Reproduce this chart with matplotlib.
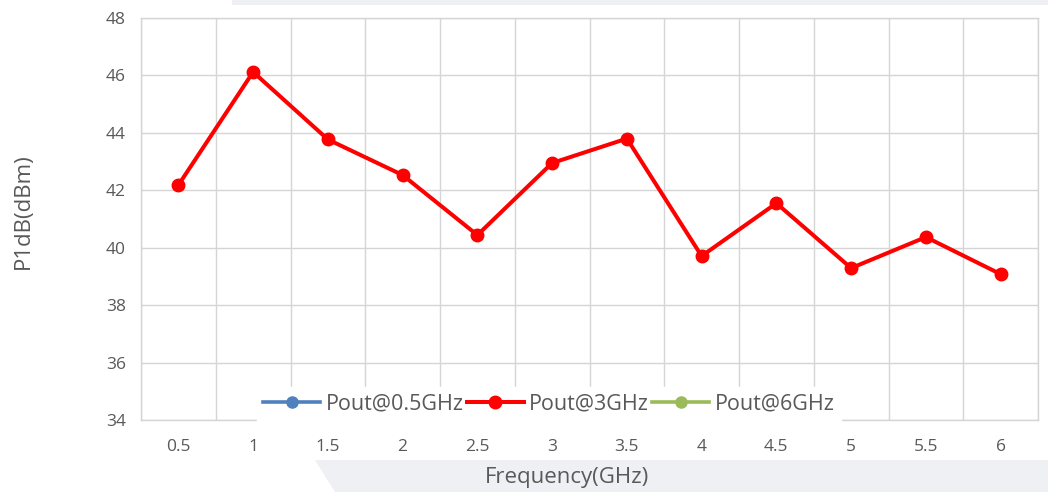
import matplotlib
matplotlib.use("Agg")
import matplotlib.pyplot as plt
from matplotlib.patches import Rectangle, Polygon
import numpy as np

categories = ["0.5", "1", "1.5", "2", "2.5", "3", "3.5", "4", "4.5", "5", "5.5", "6"]
pout_3ghz = [42.18, 46.12, 43.77, 42.53, 40.44, 42.95, 43.8, 39.71, 41.55, 39.29, 40.37, 39.08]
pout_05ghz = []  # not visible in chart
pout_6ghz = []   # not visible in chart
series_names = ["Pout@0.5GHz", "Pout@3GHz", "Pout@6GHz"]
yticks = [34, 36, 38, 40, 42, 44, 46, 48]

W, H = 1048, 492
fig = plt.figure(figsize=(W / 100, H / 100), dpi=100)
fig.patch.set_facecolor("white")

# light background decorations
bg = "#eef0f4"
fig.add_artist(Rectangle((232 / W, 1 - 5 / H), 1 - 232 / W, 5 / H, transform=fig.transFigure,
                         facecolor=bg, edgecolor="none", zorder=0))
fig.add_artist(Polygon([(315 / W, 1 - 460 / H), (1, 1 - 460 / H), (1, 0), (335 / W, 0)],
                       closed=True, transform=fig.transFigure, facecolor=bg, edgecolor="none", zorder=0))

ax = fig.add_axes([141 / W, 1 - 420 / H, (1038 - 141) / W, (420 - 18) / H])
ax.set_facecolor("white")
x = np.arange(len(categories))

ax.plot(np.arange(len(pout_05ghz)), pout_05ghz, color="#4f81bd", lw=2.6, marker="o", ms=8, label=series_names[0])
ax.plot(x, pout_3ghz, color="#ff0000", lw=2.9, marker="o", ms=9, label=series_names[1], zorder=5, clip_on=False)
ax.plot(np.arange(len(pout_6ghz)), pout_6ghz, color="#9bbb59", lw=2.6, marker="o", ms=8, label=series_names[2])

ax.set_xlim(-0.5, len(categories) - 0.5)
ax.set_ylim(34, 48)
ax.set_yticks(yticks)
ax.set_xticks(x)
ax.set_xticklabels(categories)
ax.set_xticks(np.arange(-0.5, len(categories), 1), minor=True)
ax.grid(False)
ax.grid(True, which="minor", axis="x", color="#d5d5d5", lw=1.0)
ax.grid(True, which="major", axis="y", color="#d5d5d5", lw=1.0)
ax.tick_params(which="both", length=0)
ax.tick_params(axis="y", pad=11, labelsize=12.5, labelcolor="#595959")
ax.tick_params(axis="x", pad=14, labelsize=12.5, labelcolor="#595959")
for lab in ax.get_xticklabels() + ax.get_yticklabels():
    lab.set_fontfamily("Open Sans")
for s in ax.spines.values():
    s.set_color("#d5d5d5")
    s.set_linewidth(1.0)

fig.text(567 / W, 1 - 478 / H, "Frequency(GHz)", ha="center", va="center",
         fontsize=16, color="#595959", family="Open Sans")
fig.text(23 / W, 1 - 211 / H, "P1dB(dBm)", ha="center", va="center", rotation=90,
         fontsize=16, color="#595959", family="Open Sans")

leg = ax.legend(loc="center", bbox_to_anchor=((549 - 141) / (1038 - 141), (420 - 404) / (420 - 18)),
                ncol=3, frameon=True, fancybox=False, framealpha=1.0, edgecolor="white",
                facecolor="white", handlelength=2.65, handletextpad=0.25, columnspacing=0.15,
                borderpad=0.3, borderaxespad=0, prop={"family": "Open Sans", "size": 15.5})
for t in leg.get_texts():
    t.set_color("#595959")
leg.set_zorder(10)

fig.savefig("out.png", dpi=100)
